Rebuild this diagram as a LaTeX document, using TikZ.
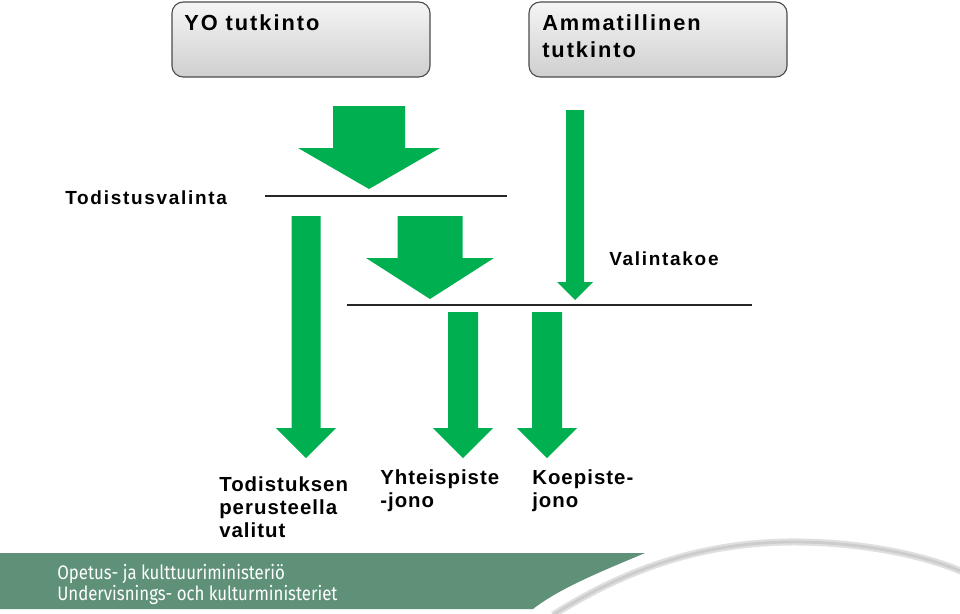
\documentclass[tikz,border=0pt]{standalone}
\usepackage{fontspec}
\setmainfont{Liberation Sans}
\newfontfamily\boxfont{Liberation Sans}[LetterSpace=9]
\newfontfamily\labelfont{Liberation Sans}[LetterSpace=9]
\newfontfamily\queuefont{Liberation Sans}[LetterSpace=5]
\newfontfamily\bandfont{Fira Sans}[FakeStretch=0.86]
\usepackage{tikz}
\usetikzlibrary{positioning}

\definecolor{flowgreen}{RGB}{0,176,80}
\definecolor{bandgreen}{RGB}{95,145,120}

% block arrow pointing down: name, centre x, top y, shaft half, head half, head start y, tip y
\newcommand{\blockarrow}[7]{%
  \fill[flowgreen] (#2-#4,#3) -- (#2+#4,#3) -- (#2+#4,#6) -- (#2+#5,#6)
    -- (#2,#7) coordinate (#1) -- (#2-#5,#6) -- (#2-#4,#6) -- cycle;}

\begin{document}
\begin{tikzpicture}[x=0.025cm, y=-0.025cm,
  degree/.style={rectangle, draw=black!70, line width=0.8pt, rounded corners=8pt, minimum width=6.45cm, minimum height=1.875cm, top color=gray!8, bottom color=gray!38},
  boxtxt/.style={anchor=north west, inner sep=0pt, align=left, font=\boxfont\bfseries\fontsize{15.5}{19.2}\selectfont},
  steptxt/.style={anchor=north west, inner sep=0pt, align=left, font=\labelfont\bfseries\fontsize{13.5}{16}\selectfont},
  resulttxt/.style={anchor=north west, inner sep=0pt, align=left, font=\queuefont\bfseries\fontsize{14.5}{16.4}\selectfont},
  bandtxt/.style={anchor=north west, inner sep=0pt, align=left, text=white, font=\bandfont\fontsize{13.9}{15}\selectfont},
  rule/.style={draw=black!85, line width=0.8pt}
]
\useasboundingbox (0,0) rectangle (960,613);
\fill[white] (0,0) rectangle (960,613);

% degrees
\node[degree] (yo) at (301,39.5) {};
\node[degree] (amm) at (658,39.5) {};
\node[boxtxt] (yotxt) at (184,14) {YO tutkinto};
\node[boxtxt] (ammtxt) at (542,14) {Ammatillinen\\tutkinto};

% selection stages
\coordinate (todL) at (265,196);
\coordinate (todR) at (507,196);
\coordinate (valL) at (347,305);
\coordinate (valR) at (752,305);
\draw[rule] (todL) -- (todR);
\draw[rule] (valL) -- (valR);
\node[steptxt] (todist) at (65,190) {Todistusvalinta};
\node[steptxt] (koe) at (609,251) {Valintakoe};

% arrows
\blockarrow{yoTip}{369}{106}{36}{71}{148}{189}
\blockarrow{yhtTip}{430}{216}{32.5}{64}{258}{299}
\blockarrow{ammTip}{575}{110}{9}{18}{282}{300}
\blockarrow{todTip}{306}{216}{14.5}{30}{428}{458}
\blockarrow{jonoTip}{463}{312}{15}{30}{428}{458}
\blockarrow{koeTip}{547}{312}{15}{30}{428}{458}

% queues
\node[resulttxt] (valitut) at (219,476) {Todistuksen\\perusteella\\valitut};
\node[resulttxt] (yhtjono) at (380,469) {Yhteispiste\\-jono};
\node[resulttxt] (koejono) at (532,469) {Koepiste-\\jono};

% footer band
\fill[bandgreen] (0,553) -- (645,553) .. controls (600,572) and (560,588) .. (533,609) -- (0,609) -- cycle;
\draw[gray!25, line width=5pt] (553,615) .. controls (640,560) and (720,541) .. (800,542) .. controls (870,543) and (930,557) .. (965,573);
\draw[gray!40, line width=2pt] (553,615) .. controls (640,560) and (720,541) .. (800,542) .. controls (870,543) and (930,557) .. (965,573);
\node[bandtxt] (okm) at (57,564) {Opetus- ja kulttuuriministeriö};
\node[bandtxt] (ukm) at (57,585) {Undervisnings- och kulturministeriet};
\end{tikzpicture}
\end{document}
